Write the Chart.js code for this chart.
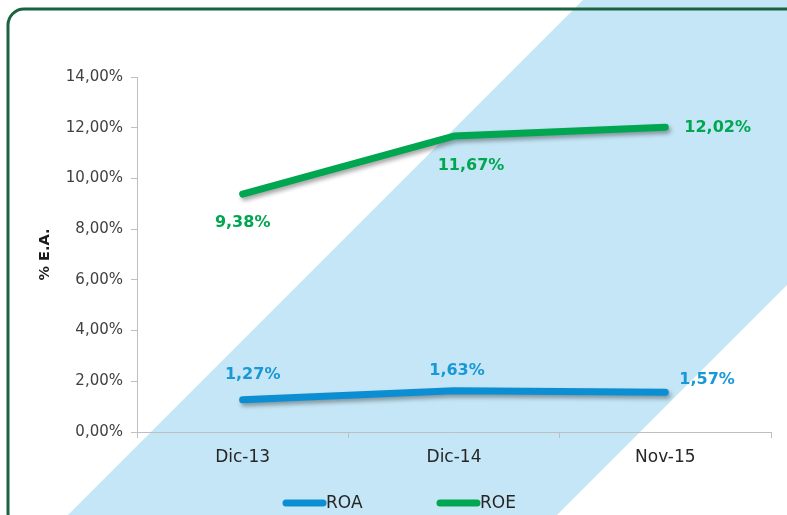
<!DOCTYPE html>
<html>
<head>
<meta charset="utf-8">
<script src="https://cdn.jsdelivr.net/npm/chart.js@4"></script>
<style>
    html, body { margin: 0; padding: 0; background: #fff; }
    #wrap { width: 787px; height: 515px; position: relative; }
</style>
</head>
<body>
<div id="wrap"><canvas id="chartRentabilidad"></canvas></div>
<script>
// Datos
const periodos = ['Dic-13', 'Dic-14', 'Nov-15'];
const valoresROA = [1.27, 1.63, 1.57];
const valoresROE = [9.38, 11.67, 12.02];
const ticksY = [0, 2, 4, 6, 8, 10, 12, 14];

const colorROA = '#0c8fd2';
const colorROE = '#00a650';
const fuente = '"DejaVu Sans", Arial, sans-serif';

// posición de cada etiqueta respecto al punto (estilo, no datos)
const posEtiquetas = {
    ROA: [[10, -25, 'center'], [3, -20, 'center'], [14, -12, 'left']],
    ROE: [[0, 29, 'center'], [17, 30, 'center'], [19, 1, 'left']]
};

function formatPct(v) {
    return v.toFixed(2).replace('.', ',') + '%';
}

// Fondo: franja diagonal azul y marco verde
const fondoPlugin = {
    id: 'fondo',
    beforeDraw(chart) {
        const ctx = chart.ctx;
        ctx.save();
        ctx.fillStyle = '#c5e6f6';
        ctx.beginPath();
        ctx.moveTo(583, 0);
        ctx.lineTo(1072, 0);
        ctx.lineTo(1072 - 600, 600);
        ctx.lineTo(583 - 600, 600);
        ctx.closePath();
        ctx.fill();

        ctx.strokeStyle = '#1a6340';
        ctx.lineWidth = 3;
        ctx.beginPath();
        ctx.roundRect(8, 9, 800, 520, 16);
        ctx.stroke();
        ctx.restore();
    }
};

// Sombra de las líneas
const sombraPlugin = {
    id: 'sombra',
    beforeDatasetDraw(chart) {
        const ctx = chart.ctx;
        ctx.save();
        ctx.shadowColor = 'rgba(0,0,0,0.35)';
        ctx.shadowBlur = 4;
        ctx.shadowOffsetX = 2;
        ctx.shadowOffsetY = 3;
    },
    afterDatasetDraw(chart) {
        chart.ctx.restore();
    }
};

// Etiquetas de datos
const etiquetasPlugin = {
    id: 'etiquetas',
    afterDatasetsDraw(chart) {
        const ctx = chart.ctx;
        ctx.save();
        ctx.font = 'bold 16px ' + fuente;
        ctx.textBaseline = 'middle';
        chart.data.datasets.forEach((ds, i) => {
            const meta = chart.getDatasetMeta(i);
            const pos = posEtiquetas[ds.label];
            ctx.fillStyle = i === 0 ? '#1898d6' : colorROE;
            meta.data.forEach((pt, j) => {
                const p = pos[j];
                ctx.textAlign = p[2];
                ctx.fillText(formatPct(ds.data[j]), pt.x + p[0], pt.y + p[1]);
            });
        });
        ctx.restore();
    }
};

// Leyenda inferior
const leyendaPlugin = {
    id: 'leyendaAbajo',
    afterDraw(chart) {
        const ctx = chart.ctx;
        const inicios = [283, 437];
        ctx.save();
        ctx.font = '17px ' + fuente;
        ctx.textBaseline = 'middle';
        ctx.textAlign = 'left';
        chart.data.datasets.forEach((ds, i) => {
            const x = inicios[i];
            const y = 503;
            ctx.strokeStyle = ds.borderColor;
            ctx.lineWidth = 7;
            ctx.lineCap = 'round';
            ctx.beginPath();
            ctx.moveTo(x + 3, y);
            ctx.lineTo(x + 40, y);
            ctx.stroke();
            ctx.fillStyle = '#262626';
            ctx.fillText(ds.label, x + 43, y + 1);
        });
        ctx.restore();
    }
};

const ctx = document.getElementById('chartRentabilidad').getContext('2d');
new Chart(ctx, {
    type: 'line',
    data: {
        labels: periodos,
        datasets: [
            {
                label: 'ROA',
                data: valoresROA,
                borderColor: colorROA,
                backgroundColor: colorROA,
                borderWidth: 7,
                borderCapStyle: 'round',
                borderJoinStyle: 'round',
                pointRadius: 0,
                tension: 0
            },
            {
                label: 'ROE',
                data: valoresROE,
                borderColor: colorROE,
                backgroundColor: colorROE,
                borderWidth: 7,
                borderCapStyle: 'round',
                borderJoinStyle: 'round',
                pointRadius: 0,
                tension: 0
            }
        ]
    },
    options: {
        responsive: true,
        maintainAspectRatio: false,
        animation: false,
        layout: { padding: { left: 32, right: 16, top: 77, bottom: 0 } },
        plugins: {
            legend: { display: false },
            tooltip: { enabled: false }
        },
        scales: {
            x: {
                offset: true,
                grid: { offset: true, drawOnChartArea: false, tickLength: 6, color: '#bfbfbf' },
                border: { color: '#bfbfbf' },
                ticks: {
                    padding: 9,
                    color: '#262626',
                    font: { family: fuente, size: 17 }
                },
                afterFit(scale) { scale.height = 83; }
            },
            y: {
                min: 0,
                max: 14,
                afterBuildTicks(scale) { scale.ticks = ticksY.map(v => ({ value: v })); },
                grid: { drawOnChartArea: false, tickLength: 6, color: '#bfbfbf' },
                border: { color: '#bfbfbf' },
                ticks: {
                    padding: 8,
                    color: '#404040',
                    font: { family: fuente, size: 15 },
                    callback: v => formatPct(v)
                },
                title: {
                    display: true,
                    text: '% E.A.',
                    color: '#1a1a1a',
                    padding: { top: 5, bottom: 0 },
                    font: { family: fuente, size: 14.5, weight: 'bold' }
                },
                afterFit(scale) { scale.width = 105; }
            }
        }
    },
    plugins: [fondoPlugin, sombraPlugin, etiquetasPlugin, leyendaPlugin]
});
</script>
</body>
</html>
